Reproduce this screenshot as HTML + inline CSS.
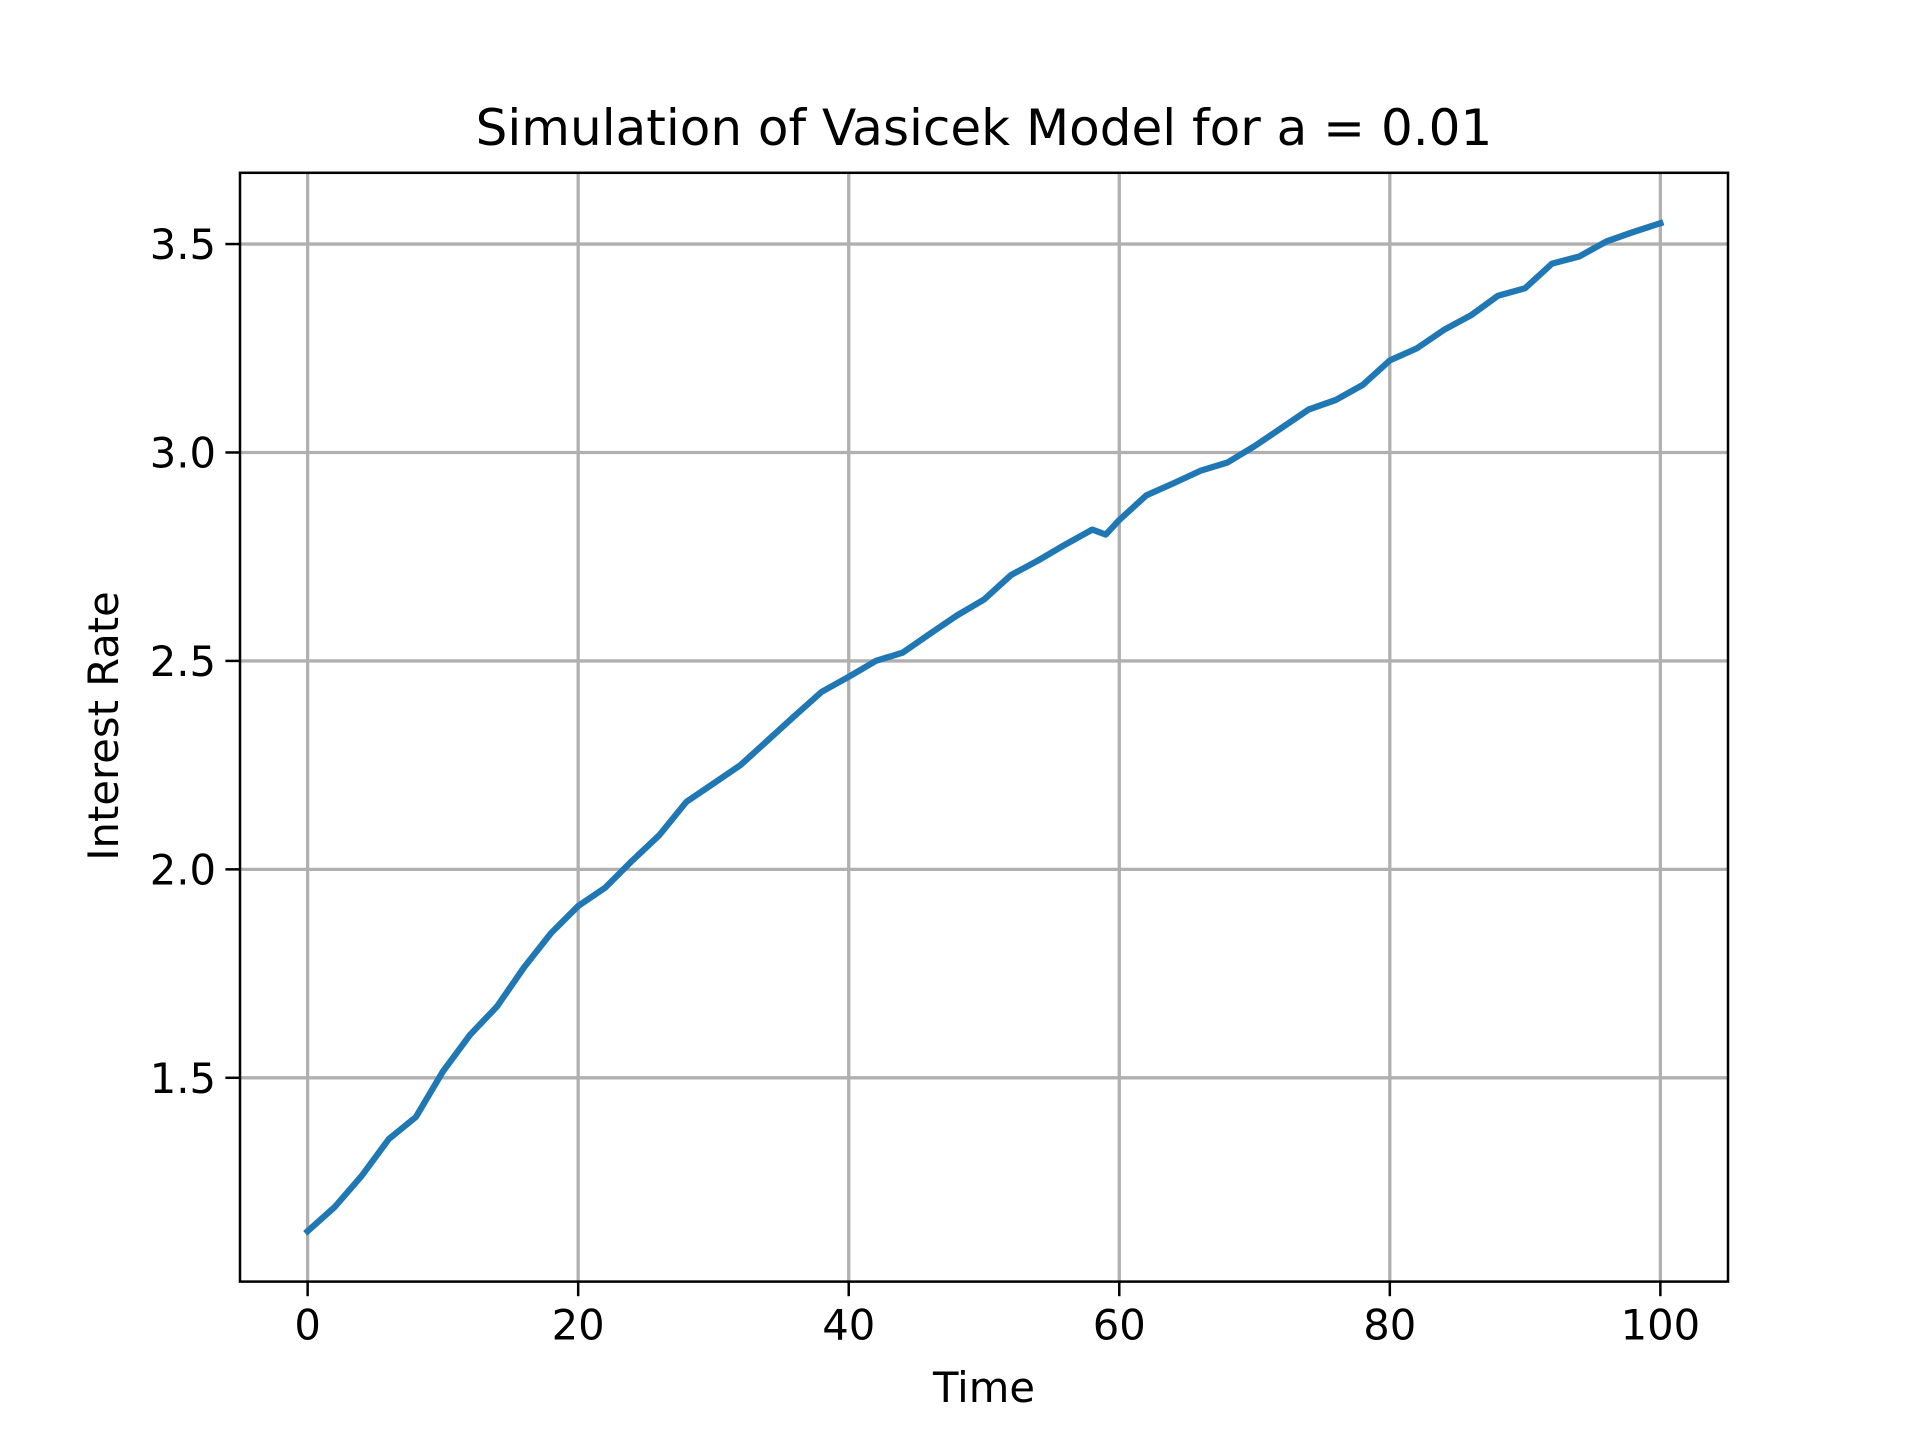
<!DOCTYPE html>
<html><head><meta charset="utf-8"><style>
html,body{margin:0;padding:0;background:#fff;}
svg{display:block;font-family:"DejaVu Sans","Liberation Sans",sans-serif;}
</style></head><body>
<svg id="chart" width="1920" height="1440" viewBox="0 0 1920 1440">
<rect width="1920" height="1440" fill="#fff"/>
<g id="grid"></g>
<g id="plot"></g>
<rect x="240" y="172.8" width="1488" height="1108.8" fill="none" stroke="#000" stroke-width="2.5"/>
<g id="ticks"></g>
<text x="984" y="145" font-size="50" text-anchor="middle">Simulation of Vasicek Model for a = 0.01</text>
<text x="984" y="1402" font-size="41.7" text-anchor="middle">Time</text>
<text x="0" y="0" font-size="41.7" text-anchor="middle" transform="translate(118,726) rotate(-90)">Interest Rate</text>
</svg>
<script>
const times = [0,2,4,6,8,10,12,14,16,18,20,22,24,26,28,30,32,34,36,38,40,42,44,46,48,50,52,54,56,58,59,60,62,64,66,68,70,72,74,76,78,80,82,84,86,88,90,92,94,96,98,100];
const rates = [1.132,1.19,1.265,1.353,1.406,1.515,1.603,1.671,1.765,1.847,1.912,1.956,2.021,2.082,2.162,2.206,2.25,2.309,2.368,2.426,2.462,2.5,2.52,2.565,2.609,2.647,2.706,2.741,2.779,2.815,2.803,2.838,2.897,2.926,2.956,2.976,3.015,3.059,3.103,3.126,3.162,3.221,3.25,3.294,3.329,3.376,3.394,3.453,3.47,3.506,3.529,3.55];
const xTicks = [0,20,40,60,80,100];
const yTicks = [1.5,2.0,2.5,3.0,3.5];
const yTickLabels = ["1.5","2.0","2.5","3.0","3.5"];

const L=240,R=1728,T=172.8,B=1281.6;
const tmin=Math.min(...times),tmax=Math.max(...times),tm=(tmax-tmin)*0.05;
const vmin=Math.min(...rates),vmax=Math.max(...rates),vm=(vmax-vmin)*0.05;
const xs=t=>L+(t-(tmin-tm))/((tmax+tm)-(tmin-tm))*(R-L);
const ys=v=>B-(v-(vmin-vm))/((vmax+vm)-(vmin-vm))*(B-T);
const NS="http://www.w3.org/2000/svg";
const grid=document.getElementById('grid'),ticks=document.getElementById('ticks'),plot=document.getElementById('plot');
function mk(tag,attrs,parent){const e=document.createElementNS(NS,tag);for(const k in attrs)e.setAttribute(k,attrs[k]);parent.appendChild(e);return e;}
xTicks.forEach(t=>{
  const x=xs(t);
  const g=mk('line',{x1:x,x2:x,y1:T,y2:B,stroke:'#b0b0b0','stroke-width':3.3},grid);
  
  
  const tk=mk('line',{x1:x,x2:x,y1:B,y2:B+14.6,stroke:'#000','stroke-width':2.5},ticks);
  
  
  const tx=mk('text',{x:x,y:B+58,'font-size':41.7,'text-anchor':'middle'},ticks);
  tx.textContent=String(t);
  
  
});
yTicks.forEach((v,i)=>{
  const y=ys(v);
  const g=mk('line',{x1:L,x2:R,y1:y,y2:y,stroke:'#b0b0b0','stroke-width':3.3},grid);
  
  
  const tk=mk('line',{x1:L-14.6,x2:L,y1:y,y2:y,stroke:'#000','stroke-width':2.5},ticks);
  
  
  const tx=mk('text',{x:L-24,y:y+15,'font-size':41.7,'text-anchor':'end'},ticks);
  tx.textContent=yTickLabels[i];
  
  
});
const d=times.map((t,i)=>(i?'L':'M')+xs(t).toFixed(1)+','+ys(rates[i]).toFixed(1)).join(' ');
const p=mk('path',{d:d,fill:'none',stroke:'#1f77b4','stroke-width':6.25,'stroke-linejoin':'round','stroke-linecap':'square'},plot);


</script>
</body></html>
